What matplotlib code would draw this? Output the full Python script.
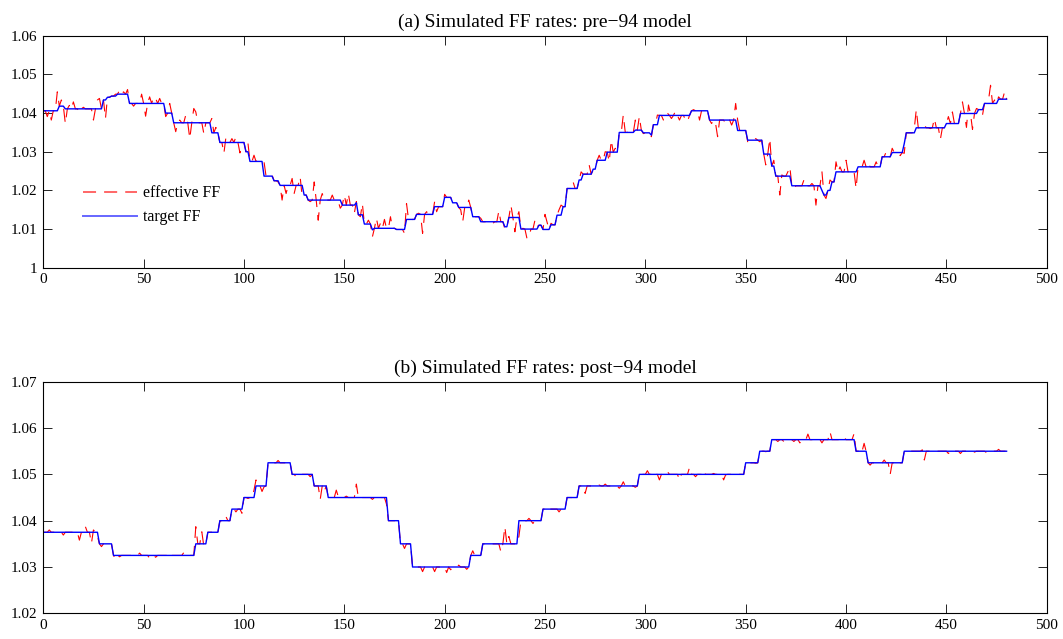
import numpy as np
import matplotlib
matplotlib.use("Agg")
import matplotlib.pyplot as plt
from matplotlib.ticker import MultipleLocator, FuncFormatter

plt.rcParams['font.family'] = ['Liberation Serif', 'DejaVu Serif']
plt.rcParams['lines.scale_dashes'] = False

T_END = 480

# ---- Panel (a): pre-94 model ----
a_target_start = [0, 8, 11, 30, 32, 34, 37, 43, 61, 65, 84, 88, 101, 103, 110, 115, 118, 130, 132,
                  149, 156, 157, 160, 164, 165, 176, 181, 186, 195, 200, 204, 207, 214, 218, 230,
                  232, 238, 247, 249, 253, 256, 259, 261, 267, 269, 274, 276, 281, 287, 295, 299,
                  303, 304, 307, 323, 332, 346, 351, 359, 363, 365, 373, 388, 389, 391, 393, 395,
                  406, 418, 423, 429, 430, 435, 450, 457, 466, 469, 476]
a_target_level = [1.0406, 1.0418, 1.0411, 1.0434, 1.0441, 1.0444, 1.0449, 1.0425, 1.0400, 1.0375,
                  1.0349, 1.0324, 1.0300, 1.0275, 1.0237, 1.0225, 1.0213, 1.0188, 1.0175,
                  1.0162, 1.0168, 1.0137, 1.0113, 1.0098, 1.0102, 1.0099, 1.0125, 1.0138, 1.0158,
                  1.0182, 1.0168, 1.0156, 1.0132, 1.0119, 1.0106,
                  1.0130, 1.0100, 1.0110, 1.0099, 1.0111, 1.0136, 1.0158, 1.0205, 1.0227, 1.0242,
                  1.0255, 1.0278, 1.0299, 1.0350, 1.0356, 1.0349,
                  1.0343, 1.0370, 1.0394, 1.0406, 1.0382, 1.0355, 1.0330, 1.0294, 1.0263, 1.0237,
                  1.0212, 1.0200, 1.0188, 1.0200, 1.0222, 1.0248,
                  1.0261, 1.0287, 1.0298, 1.0321, 1.0349, 1.0362, 1.0373, 1.0399, 1.0409, 1.0425,
                  1.0436]

a_eff_t = [2, 4, 7, 9, 11, 13, 15, 18, 20, 25, 27, 28, 31, 36, 38, 40, 42, 45, 49, 51, 53, 55, 56,
           58, 61, 63, 66, 68, 71, 73, 75, 76, 80, 84, 86, 90, 91, 94, 96, 98, 102, 105, 107, 110,
           114, 117, 119, 121, 124, 125, 128, 129, 133, 135, 136, 137, 139, 142, 144, 147, 148,
           150, 152, 155, 156, 158, 159, 162, 164, 166, 168, 170, 173, 175, 180, 181, 183, 187,
           189, 191, 193, 195, 196, 200, 208, 209, 212, 218, 224, 227, 230, 233, 235, 237, 239,
           241, 242, 245, 246, 250, 251, 253, 257, 258, 264, 268, 272, 274, 277, 280, 282, 283,
           285, 289, 292, 295, 297, 299, 303, 306, 309, 311, 313, 315, 317, 320, 321, 324, 327,
           333, 335, 336, 340, 343, 345, 346, 348, 351, 355, 357, 360, 362, 364, 367, 368, 371,
           372, 374, 379, 383, 385, 388, 390, 392, 395, 397, 400, 402, 405, 409, 411, 415, 420,
           423, 427, 429, 434, 435, 439, 442, 444, 447, 451, 453, 455, 458, 460, 461, 463, 465,
           468, 471, 472, 474, 476, 479]
a_eff_val = [1.0391, 1.0382, 1.0455, 1.0434, 1.0373, 1.0420, 1.0429, 1.0401, 1.0415, 1.0382,
             1.0434, 1.0438, 1.0386, 1.0449, 1.0459, 1.0455, 1.0461, 1.0418, 1.0449, 1.0392,
             1.0442, 1.0442, 1.0438, 1.0438, 1.0391, 1.0425, 1.0352, 1.0382, 1.0395, 1.0334,
             1.0412, 1.0403, 1.0347, 1.0386, 1.0363, 1.0296, 1.0337, 1.0334, 1.0339, 1.0297,
             1.0322, 1.0291, 1.0278, 1.0274, 1.0240, 1.0222, 1.0175, 1.0192, 1.0231, 1.0192,
             1.0235, 1.0184, 1.0171, 1.0222, 1.0175, 1.0123, 1.0192, 1.0175, 1.0188, 1.0171,
             1.0154, 1.0188, 1.0192, 1.0141, 1.0171, 1.0132, 1.0166, 1.0123, 1.0080, 1.0128,
             1.0115, 1.0125, 1.0132, 1.0102, 1.0089, 1.0166, 1.0123, 1.0141, 1.0089, 1.0145,
             1.0132, 1.0171, 1.0145, 1.0190, 1.0150, 1.0119, 1.0175, 1.0128, 1.0115, 1.0147,
             1.0100, 1.0162, 1.0093, 1.0145, 1.0102, 1.0076, 1.0080, 1.0123, 1.0106, 1.0138,
             1.0119, 1.0115, 1.0150, 1.0162, 1.0222, 1.0248, 1.0266, 1.0253, 1.0291, 1.0300,
             1.0274, 1.0330, 1.0309, 1.0395, 1.0356, 1.0382, 1.0391, 1.0347, 1.0339, 1.0395,
             1.0382, 1.0400, 1.0386, 1.0405, 1.0382, 1.0382, 1.0378, 1.0409, 1.0382, 1.0373,
             1.0373, 1.0339, 1.0373, 1.0369, 1.0425, 1.0382, 1.0347, 1.0326, 1.0334, 1.0326,
             1.0266, 1.0334, 1.0278, 1.0188, 1.0240, 1.0248, 1.0261, 1.0205, 1.0227, 1.0218,
             1.0162, 1.0248, 1.0179, 1.0227, 1.0274, 1.0261, 1.0278, 1.0253, 1.0205, 1.0278,
             1.0272, 1.0274, 1.0300, 1.0309, 1.0290, 1.0296, 1.0360, 1.0409, 1.0369, 1.0360,
             1.0386, 1.0332, 1.0391, 1.0403, 1.0382, 1.0429, 1.0363, 1.0421, 1.0358, 1.0412,
             1.0395, 1.0434, 1.0472, 1.0434, 1.0442, 1.0455]

# ---- Panel (b): post-94 model ----
b_target_start = [0, 28, 35, 76, 82, 88, 94, 100, 106, 112, 124, 135, 142, 172, 178, 184, 213,
                  219, 237, 249, 261, 267, 297, 350, 357, 363, 405, 411, 429]
b_target_level = [1.0375, 1.0350, 1.0325, 1.0350, 1.0375, 1.0400, 1.0425, 1.0450, 1.0475, 1.0525,
                  1.0500, 1.0475, 1.0450, 1.0400, 1.0350, 1.0300, 1.0325, 1.0350, 1.0400, 1.0425,
                  1.0450, 1.0475, 1.0500, 1.0525, 1.0550, 1.0575, 1.0550, 1.0525, 1.0550]

b_eff_t = [3, 10, 18, 21, 24, 25, 27, 29, 32, 36, 38, 48, 53, 56, 63, 70, 76, 79, 80, 85, 89, 91,
           96, 99, 102, 105, 106, 109, 110, 117, 122, 126, 133, 138, 140, 146, 147, 151, 156, 158,
           164, 166, 171, 180, 189, 195, 201, 203, 207, 211, 214, 228, 230, 232, 236, 237, 242,
           244, 251, 257, 265, 270, 277, 280, 287, 289, 295, 301, 304, 307, 311, 317, 322, 325,
           329, 334, 339, 340, 355, 360, 366, 369, 371, 374, 377, 381, 388, 392, 399, 404, 407,
           409, 412, 419, 422, 425, 438, 439, 445, 451, 453, 457, 464, 470, 476]
b_eff_val = [1.0380, 1.0369, 1.0358, 1.0387, 1.0351, 1.0380, 1.0366, 1.0344, 1.0351, 1.0317,
             1.0322, 1.0330, 1.0319, 1.0321, 1.0331, 1.0331, 1.0387, 1.0376, 1.0345, 1.0380,
             1.0398, 1.0409, 1.0419, 1.0416, 1.0448, 1.0466, 1.0488, 1.0463, 1.0473, 1.0530,
             1.0527, 1.0495, 1.0495, 1.0446, 1.0463, 1.0466, 1.0452, 1.0453, 1.0479, 1.0452,
             1.0446, 1.0446, 1.0436, 1.0340, 1.0290, 1.0290, 1.0288, 1.0294, 1.0304, 1.0295,
             1.0335, 1.0333, 1.0387, 1.0366, 1.0351, 1.0366, 1.0405, 1.0394, 1.0430, 1.0419,
             1.0455, 1.0459, 1.0477, 1.0479, 1.0470, 1.0484, 1.0472, 1.0508, 1.0506, 1.0488,
             1.0506, 1.0488, 1.0515, 1.0495, 1.0509, 1.0502, 1.0488, 1.0499, 1.0524, 1.0549,
             1.0571, 1.0571, 1.0574, 1.0571, 1.0568, 1.0587, 1.0568, 1.0592, 1.0580, 1.0588,
             1.0556, 1.0567, 1.0520, 1.0531, 1.0500, 1.0520, 1.0553, 1.0531, 1.0549, 1.0545,
             1.0554, 1.0545, 1.0548, 1.0547, 1.0554]

titles = ["(a) Simulated FF rates: pre\u221294 model", "(b) Simulated FF rates: post\u221294 model"]
legend_labels = ["effective FF", "target FF"]
a_ylim = (1.00, 1.06)
b_ylim = (1.02, 1.07)


def build_series(starts, levels, eff_t, eff_val):
    t = np.arange(T_END + 1)
    bounds = list(starts) + [T_END + 1]
    target = np.repeat(levels, np.diff(bounds))
    eff = target.copy()
    eff[np.array(eff_t)] = eff_val
    return t, target, eff


fig = plt.figure(figsize=(10.63, 6.39), dpi=100)
ax_a = fig.add_axes([0.0407, 0.581, 0.944, 0.363])
ax_b = fig.add_axes([0.0407, 0.0402, 0.944, 0.3624])

fmt = FuncFormatter(lambda v, p: "%g" % round(v, 4))

for ax, (starts, levels, et, ev), title, ylim in [
        (ax_a, (a_target_start, a_target_level, a_eff_t, a_eff_val), titles[0], a_ylim),
        (ax_b, (b_target_start, b_target_level, b_eff_t, b_eff_val), titles[1], b_ylim)]:
    t, target, eff = build_series(starts, levels, et, ev)
    ax.plot(t, eff, color='#ff0000', lw=0.8, linestyle=(0, (9.4, 5.8)), label=legend_labels[0])
    ax.plot(t, target, color='#0000ff', lw=1.0, label=legend_labels[1])
    ax.set_xlim(0, 500)
    ax.set_ylim(*ylim)
    ax.xaxis.set_major_locator(MultipleLocator(50))
    ax.yaxis.set_major_locator(MultipleLocator(0.01))
    ax.yaxis.set_major_formatter(fmt)
    ax.tick_params(direction='in', top=True, right=True, length=6.5, width=0.6,
                   labelsize=11, pad=4, colors='black')
    for s in ax.spines.values():
        s.set_linewidth(0.8)
    ax.set_title(title, fontsize=14, pad=6.5)

leg = ax_a.legend(loc='upper left', bbox_to_anchor=(0.0396, 0.355), frameon=False, fontsize=11.5,
                  handlelength=3.4, handletextpad=0.37, labelspacing=0.5, borderpad=0,
                  borderaxespad=0)
for h in leg.get_lines():
    h.set_linewidth(1.4)
    h.set_alpha(0.6)

fig.savefig("out.png", dpi=100)
